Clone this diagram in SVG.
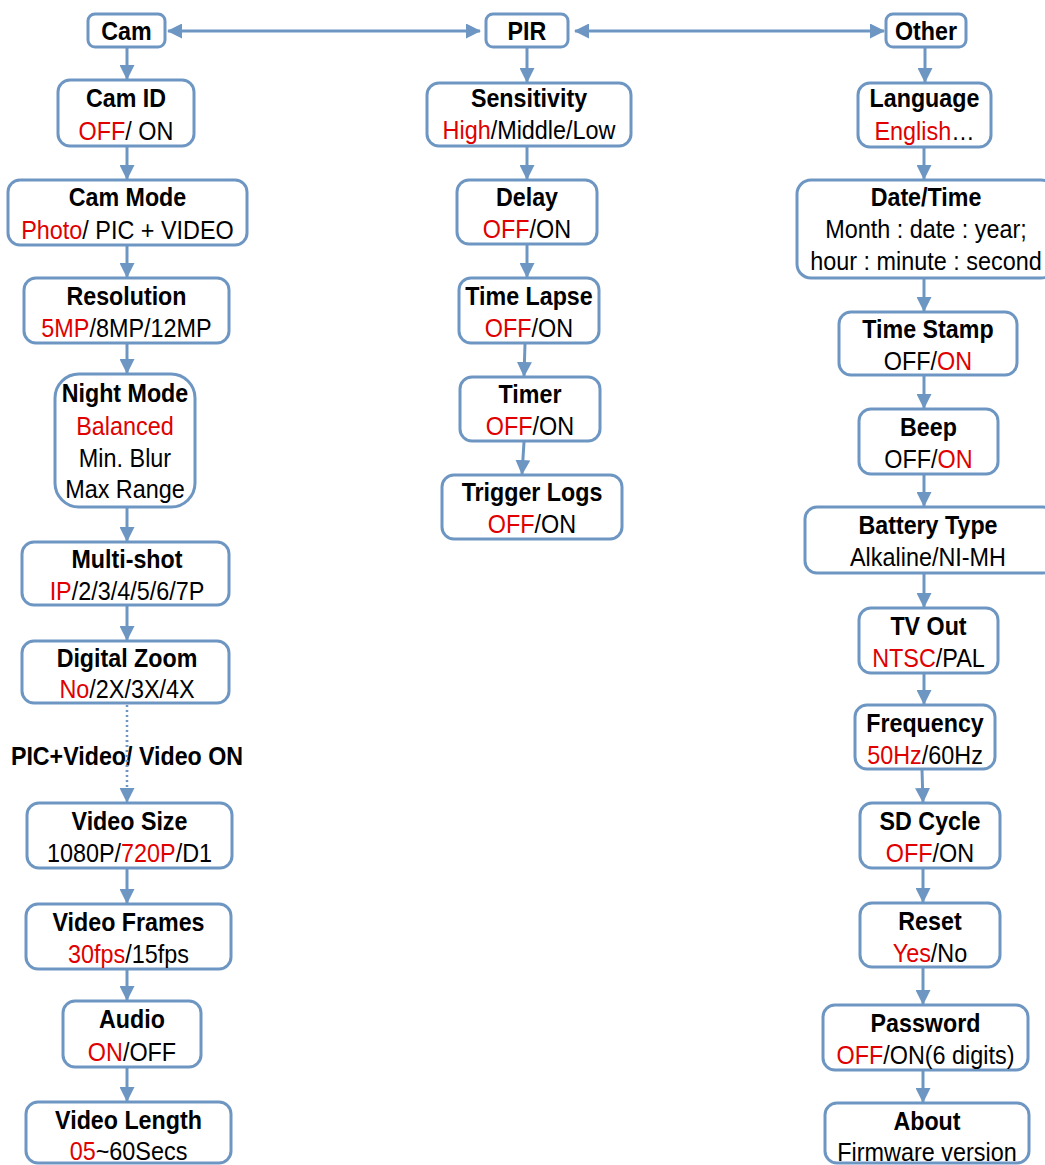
<svg xmlns="http://www.w3.org/2000/svg" width="1045" height="1165" viewBox="0 0 1045 1165">
<defs>
<marker id="ah" viewBox="0 0 15 15" refX="14" refY="7.5" markerWidth="15" markerHeight="15" markerUnits="userSpaceOnUse" orient="auto-start-reverse">
<path d="M0,0 L15,7.5 L0,15 z" fill="#6E96C3"/>
</marker>
<style>
.b{fill:#fff;stroke:#6E96C3;stroke-width:3}
.c{stroke:#6E96C3;stroke-width:3;fill:none;marker-end:url(#ah)}
.d{stroke:#6E96C3;stroke-width:2.5;fill:none;stroke-dasharray:2 3;marker-end:url(#ah)}
text{font-family:'Liberation Sans',Arial,sans-serif;text-anchor:middle;fill:#000;transform-box:fill-box;transform-origin:center}
.h{font-size:25px;font-weight:bold;transform:scaleX(.93)}
.s{font-size:26px;transform:scaleX(.9)}
.r{fill:#E00000}
</style>
</defs>
<rect width="1045" height="1165" fill="#fff"/>
<g id="connectors">
<line class="c" x1="480" y1="31" x2="168" y2="31" marker-start="url(#ah)"/>
<line class="c" x1="575" y1="31" x2="884" y2="31" marker-start="url(#ah)"/>
<line class="c" x1="127" y1="48" x2="127" y2="79"/>
<line class="c" x1="127" y1="147" x2="127" y2="179"/>
<line class="c" x1="127" y1="246" x2="127" y2="277"/>
<line class="c" x1="127" y1="344" x2="127" y2="373"/>
<line class="c" x1="127" y1="508" x2="127" y2="541"/>
<line class="c" x1="127" y1="606" x2="127" y2="640"/>
<line class="d" x1="127" y1="705" x2="127" y2="802"/>
<line class="c" x1="127" y1="869" x2="127" y2="903"/>
<line class="c" x1="127" y1="970" x2="127" y2="1000"/>
<line class="c" x1="127" y1="1068" x2="127" y2="1101"/>
<line class="c" x1="527" y1="48" x2="527" y2="82"/>
<line class="c" x1="527" y1="147" x2="527" y2="179"/>
<line class="c" x1="527" y1="245" x2="527" y2="277"/>
<line class="c" x1="525" y1="344" x2="524" y2="376"/>
<line class="c" x1="524" y1="442" x2="522" y2="474"/>
<line class="c" x1="925" y1="48" x2="925" y2="82"/>
<line class="c" x1="924" y1="148" x2="924" y2="179"/>
<line class="c" x1="924" y1="279" x2="924" y2="311"/>
<line class="c" x1="924" y1="376" x2="924" y2="408"/>
<line class="c" x1="924" y1="475" x2="924" y2="506"/>
<line class="c" x1="924" y1="574" x2="924" y2="607"/>
<line class="c" x1="924" y1="674" x2="924" y2="704"/>
<line class="c" x1="922" y1="770" x2="923" y2="802"/>
<line class="c" x1="923" y1="869" x2="923" y2="902"/>
<line class="c" x1="923" y1="968" x2="923" y2="1004"/>
<line class="c" x1="923" y1="1071" x2="923" y2="1102"/>
</g>
<g id="cam"><rect class="b" x="88" y="14" width="77" height="33" rx="7"/><text class="h" x="126.5" y="40">Cam</text></g>
<g id="pir"><rect class="b" x="486" y="14" width="82" height="33" rx="7"/><text class="h" x="527" y="40">PIR</text></g>
<g id="other"><rect class="b" x="886" y="14" width="80" height="33" rx="7"/><text class="h" x="926" y="40">Other</text></g>

<g id="camid"><rect class="b" x="58" y="80" width="136" height="66" rx="12"/><text class="h" x="126" y="107">Cam ID</text><text class="s" x="126" y="140"><tspan class="r">OFF</tspan>/ ON</text></g>
<g id="cammode"><rect class="b" x="8" y="180" width="239" height="65" rx="12"/><text class="h" x="127.5" y="206">Cam Mode</text><text class="s" x="127.5" y="239"><tspan class="r">Photo</tspan>/ PIC + VIDEO</text></g>
<g id="resolution"><rect class="b" x="24" y="278" width="205" height="65" rx="12"/><text class="h" x="126.5" y="305">Resolution</text><text class="s" x="126.5" y="337"><tspan class="r">5MP</tspan>/8MP/12MP</text></g>
<g id="nightmode"><rect class="b" x="55" y="374" width="140" height="133" rx="24"/><text class="h" x="125" y="402">Night Mode</text><text class="s r" x="125" y="435">Balanced</text><text class="s" x="125" y="467">Min. Blur</text><text class="s" x="125" y="498">Max Range</text></g>
<g id="multishot"><rect class="b" x="22" y="542" width="207" height="63" rx="12"/><text class="h" x="127" y="568">Multi-shot</text><text class="s" x="127" y="600"><tspan class="r">IP</tspan>/2/3/4/5/6/7P</text></g>
<g id="digitalzoom"><rect class="b" x="22" y="641" width="207" height="62" rx="12"/><text class="h" x="127" y="667">Digital Zoom</text><text class="s" x="127" y="698"><tspan class="r">No</tspan>/2X/3X/4X</text></g>
<text class="h" x="127" y="765">PIC+Video/ Video ON</text>
<line x1="127" y1="740" x2="127" y2="775" stroke="#6E96C3" stroke-width="2.5" stroke-dasharray="2 3"/>
<g id="videosize"><rect class="b" x="27" y="803" width="205" height="65" rx="12"/><text class="h" x="129.5" y="830">Video Size</text><text class="s" x="129.5" y="862">1080P/<tspan class="r">720P</tspan>/D1</text></g>
<g id="videoframes"><rect class="b" x="26" y="904" width="205" height="65" rx="12"/><text class="h" x="128.5" y="931">Video Frames</text><text class="s" x="128.5" y="963"><tspan class="r">30fps</tspan>/15fps</text></g>
<g id="audio"><rect class="b" x="63" y="1001" width="138" height="66" rx="12"/><text class="h" x="132" y="1028">Audio</text><text class="s" x="132" y="1061"><tspan class="r">ON</tspan>/OFF</text></g>
<g id="videolength"><rect class="b" x="26" y="1102" width="205" height="61" rx="12"/><text class="h" x="128.5" y="1129">Video Length</text><text class="s" x="128.5" y="1160"><tspan class="r">05</tspan>~60Secs</text></g>

<g id="sensitivity"><rect class="b" x="427" y="83" width="204" height="63" rx="12"/><text class="h" x="529" y="107">Sensitivity</text><text class="s" x="529" y="139"><tspan class="r">High</tspan>/Middle/Low</text></g>
<g id="delay"><rect class="b" x="457" y="180" width="140" height="64" rx="12"/><text class="h" x="527" y="206">Delay</text><text class="s" x="527" y="238"><tspan class="r">OFF</tspan>/ON</text></g>
<g id="timelapse"><rect class="b" x="459" y="278" width="140" height="65" rx="12"/><text class="h" x="529" y="305">Time Lapse</text><text class="s" x="529" y="337"><tspan class="r">OFF</tspan>/ON</text></g>
<g id="timer"><rect class="b" x="460" y="377" width="140" height="64" rx="12"/><text class="h" x="530" y="403">Timer</text><text class="s" x="530" y="435"><tspan class="r">OFF</tspan>/ON</text></g>
<g id="triggerlogs"><rect class="b" x="442" y="475" width="180" height="64" rx="12"/><text class="h" x="532" y="501">Trigger Logs</text><text class="s" x="532" y="533"><tspan class="r">OFF</tspan>/ON</text></g>

<g id="language"><rect class="b" x="858" y="83" width="133" height="64" rx="12"/><text class="h" x="924.5" y="107">Language</text><text class="s" x="924.5" y="140"><tspan class="r">English</tspan>…</text></g>
<g id="datetime"><rect class="b" x="797" y="180" width="258" height="98" rx="14"/><text class="h" x="926" y="206">Date/Time</text><text class="s" x="926" y="238">Month : date : year;</text><text class="s" x="926" y="270">hour : minute : second</text></g>
<g id="timestamp"><rect class="b" x="839" y="312" width="178" height="63" rx="12"/><text class="h" x="928" y="338">Time Stamp</text><text class="s" x="928" y="370">OFF/<tspan class="r">ON</tspan></text></g>
<g id="beep"><rect class="b" x="859" y="409" width="139" height="65" rx="12"/><text class="h" x="928.5" y="436">Beep</text><text class="s" x="928.5" y="468">OFF/<tspan class="r">ON</tspan></text></g>
<g id="batterytype"><rect class="b" x="805" y="507" width="250" height="66" rx="12"/><text class="h" x="928" y="534">Battery Type</text><text class="s" x="928" y="566">Alkaline/NI-MH</text></g>
<g id="tvout"><rect class="b" x="859" y="608" width="139" height="65" rx="12"/><text class="h" x="928.5" y="635">TV Out</text><text class="s" x="928.5" y="667"><tspan class="r">NTSC</tspan>/PAL</text></g>
<g id="frequency"><rect class="b" x="855" y="705" width="140" height="64" rx="12"/><text class="h" x="925" y="732">Frequency</text><text class="s" x="925" y="764"><tspan class="r">50Hz</tspan>/60Hz</text></g>
<g id="sdcycle"><rect class="b" x="860" y="803" width="140" height="65" rx="12"/><text class="h" x="930" y="830">SD Cycle</text><text class="s" x="930" y="862"><tspan class="r">OFF</tspan>/ON</text></g>
<g id="reset"><rect class="b" x="860" y="903" width="140" height="64" rx="12"/><text class="h" x="930" y="930">Reset</text><text class="s" x="930" y="962"><tspan class="r">Yes</tspan>/No</text></g>
<g id="password"><rect class="b" x="823" y="1005" width="205" height="65" rx="12"/><text class="h" x="925.5" y="1032">Password</text><text class="s" x="925.5" y="1064"><tspan class="r">OFF</tspan>/ON(6 digits)</text></g>
<g id="about"><rect class="b" x="825" y="1103" width="204" height="60" rx="12"/><text class="h" x="927" y="1130">About</text><text class="s" x="927" y="1161">Firmware version</text></g>
</svg>
